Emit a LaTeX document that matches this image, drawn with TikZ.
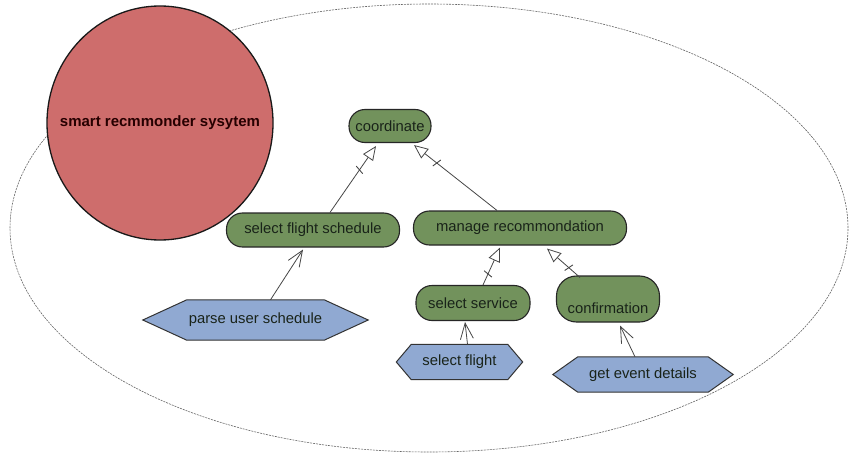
\documentclass[tikz,border=0pt]{standalone}
\usepackage{fontspec}
\setmainfont{Liberation Sans}
\usetikzlibrary{arrows.meta,calc,backgrounds,shapes.geometric}

\definecolor{usecase}{RGB}{114,146,92}
\definecolor{hexblue}{RGB}{144,169,210}
\definecolor{actorred}{RGB}{206,109,108}
\definecolor{edgegray}{RGB}{70,70,70}
\definecolor{txt}{RGB}{25,35,25}

\tikzset{
  ucase/.style={draw=black!85, line width=1.1pt, fill=usecase, rounded corners=16pt,
    minimum height=34pt, inner sep=2pt, font=\fontsize{14.8}{16}\selectfont, text=txt},
  hexnode/.style={draw=none, minimum height=35pt, inner sep=0pt,
    font=\fontsize{14.8}{16}\selectfont, text=txt},
  hexfill/.style={draw=black!80, line width=1pt, fill=hexblue},
  gen/.style={draw=edgegray, line width=0.8pt,
    -{Triangle[open, length=14pt, width=12pt, fill=white]}},
  tickmark/.style={draw=edgegray, line width=0.9pt},
  incl/.style={draw=edgegray, line width=0.8pt,
    -{Straight Barb[length=16pt, width=13pt, line width=0.8pt]}},
}

\newcommand{\hexagon}[2]{% node name, inset of the pointed ends
  \path[hexfill] (#1.west) -- ([xshift=#2]#1.north west) -- ([xshift=-#2]#1.north east)
    -- (#1.east) -- ([xshift=-#2]#1.south east) -- ([xshift=#2]#1.south west) -- cycle;}

% generalisation link from coordinate #1 to coordinate #2, with a cross tick
\newcommand{\genlink}[2]{%
  \draw[gen] (#1) -- (#2);
  \coordinate (tk) at ($(#2)!29pt!(#1)$);
  \draw[tickmark] ($(tk)!5pt!75:(#2)$) -- ($(tk)!5pt!-105:(#2)$);}

\begin{document}
\begin{tikzpicture}[x=1pt,y=1pt]
\useasboundingbox (0,0) rectangle (850,456);
\begin{scope}[on background layer]
  \fill[white] (0,0) rectangle (850,456);
\end{scope}

% system boundary
\draw[dashed, dash pattern=on 2pt off 1pt, draw=black!60, line width=0.6pt]
  (429,228) ellipse [x radius=419, y radius=224];

% actor
\node[ellipse, draw=black!90, line width=1.3pt, fill=actorred, text=black!85!red,
  minimum width=226pt, minimum height=234pt, inner sep=0pt,
  font=\bfseries\fontsize{15}{17}\selectfont] (sys) at (160,333)
  {\makebox[0pt]{smart recmmonder sysytem}};

% use cases
\node[ucase, minimum width=82pt, minimum height=33pt] (coord) at (390,330) {coordinate};
\node[ucase, minimum width=173pt] (sfs) at (313,226) {select flight schedule};
\node[ucase, minimum width=213pt] (mr) at (520,228) {manage recommondation};
\node[ucase, minimum width=114pt, minimum height=35pt] (ss) at (473,153) {select service};
\node[ucase, minimum width=103pt, minimum height=46pt, rounded corners=20pt] (conf) at (608,157)
  {\makebox[0pt]{\raisebox{-14pt}[0pt][0pt]{confirmation}}};

% data sources (hexagons)
\node[hexnode, minimum width=225pt, minimum height=40pt] (pus) at (255.5,136) {parse user schedule};
\node[hexnode, minimum width=126pt] (sf) at (459.5,94) {select flight};
\node[hexnode, minimum width=180pt] (ged) at (643,81.5) {get event details};
\begin{scope}[on background layer]
  \hexagon{pus}{44pt}
  \hexagon{sf}{15pt}
  \hexagon{ged}{25pt}
\end{scope}

% link end points
\coordinate (g1a) at ([xshift=17pt]sfs.north);
\coordinate (g1b) at ([xshift=-14pt,yshift=-3pt]coord.south);
\coordinate (g2a) at ([xshift=-23pt]mr.north);
\coordinate (g2b) at ([xshift=24pt,yshift=-2pt]coord.south);
\coordinate (g3a) at ([xshift=10pt]ss.north);
\coordinate (g3b) at ([xshift=-20pt,yshift=-2pt]mr.south);
\coordinate (g4a) at ([xshift=-28pt,yshift=-2pt]conf.north);
\coordinate (g4b) at ([xshift=27pt,yshift=-3pt]mr.south);

% generalisation links
\genlink{g1a}{g1b}
\genlink{g2a}{g2b}
\genlink{g3a}{g3b}
\genlink{g4a}{g4b}

% include links
\draw[incl] ([xshift=15pt]pus.north) -- ([xshift=-10pt,yshift=-2pt]sfs.south);
\draw[incl] ([xshift=8pt]sf.north) -- ([xshift=-8pt,yshift=-1pt]ss.south);
\draw[incl] ([xshift=-8pt]ged.north) -- ([xshift=12pt,yshift=-3pt]conf.south);
\end{tikzpicture}
\end{document}
